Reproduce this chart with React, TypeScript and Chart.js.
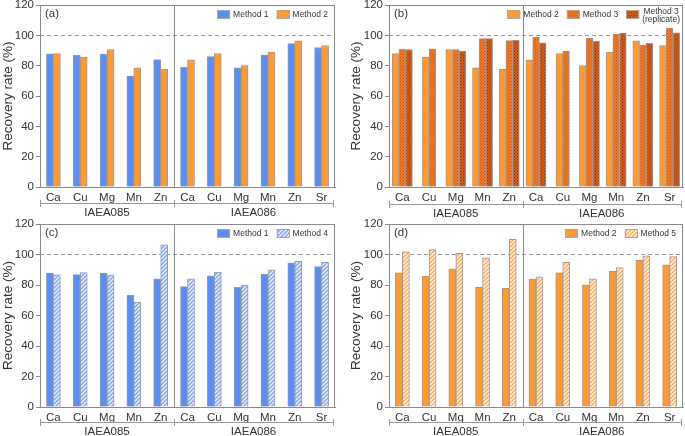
import React, { useEffect, useRef } from "react";
import { Chart, registerables } from "chart.js";

Chart.register(...registerables);

const FONT = '"Liberation Sans", Arial, Helvetica, sans-serif';
const TEXT = "#333333";
const AXIS = "#8a8a8a";

// ---------- data ----------
const elements = ["Ca", "Cu", "Mg", "Mn", "Zn", "Ca", "Cu", "Mg", "Mn", "Zn", "Sr"];
const sampleGroups = ["IAEA085", "IAEA086"];
const groupSizes = [5, 6];
const yMin = 0;
const yMax = 120;
const yStep = 20;
const yTitle = "Recovery rate (%)";
const referenceLine = 100;
const panelLabels = ["(a)", "(b)", "(c)", "(d)"];

const method1 = [87.8, 86.8, 87.7, 73.2, 84.0, 78.9, 86.0, 78.5, 87.0, 94.6, 92.0];
const method2 = [88.0, 85.7, 90.6, 78.6, 77.8, 83.9, 88.0, 80.1, 89.0, 96.4, 93.3];
const method3 = [90.8, 91.0, 90.6, 97.8, 96.5, 98.7, 89.7, 98.0, 100.6, 93.6, 104.8];
const method3rep = [90.6, null, 89.7, 97.8, 96.7, 95.0, null, 96.0, 101.5, 94.7, 101.7];
const method4 = [86.7, 88.2, 86.7, 68.8, 106.3, 84.0, 88.4, 80.0, 90.0, 95.6, 94.8];
const method5 = [101.8, 103.2, 100.8, 97.8, 110.0, 85.4, 94.8, 84.0, 91.5, 99.1, 98.7];

const name1 = ["Method 1"];
const name2 = ["Method 2"];
const name3 = ["Method 3"];
const name3rep = ["Method 3", "(replicate)"];
const name4 = ["Method 4"];
const name5 = ["Method 5"];

// ---------- fills ----------
function stripePattern(fg: string, bg: string) {
  const c = document.createElement("canvas");
  c.width = 4;
  c.height = 4;
  const g = c.getContext("2d")!;
  g.fillStyle = bg;
  g.fillRect(0, 0, 4, 4);
  g.strokeStyle = fg;
  g.lineWidth = 1.3;
  g.beginPath();
  g.moveTo(-1, 5);
  g.lineTo(5, -1);
  g.moveTo(-1, 1);
  g.lineTo(1, -1);
  g.moveTo(3, 5);
  g.lineTo(5, 3);
  g.stroke();
  return g.createPattern(c, "repeat")!;
}

function dotPattern(fg: string, bg: string) {
  const c = document.createElement("canvas");
  c.width = 3;
  c.height = 3;
  const g = c.getContext("2d")!;
  g.fillStyle = bg;
  g.fillRect(0, 0, 3, 3);
  g.fillStyle = fg;
  g.fillRect(0, 0, 1, 1);
  g.fillRect(1.5, 1.5, 1, 1);
  return g.createPattern(c, "repeat")!;
}

type Fill = () => string | CanvasPattern;
const fillBlue: Fill = () => "#5b8ef2";
const fillOrange: Fill = () => "#ff9a33";
const fillM3: Fill = () => dotPattern("#c8520f", "#f57a26");
const fillM3rep: Fill = () => dotPattern("#8a3408", "#d35e1c");
const fillM4: Fill = () => stripePattern("#7aa4f2", "#e8f0ff");
const fillM5: Fill = () => stripePattern("#ffa64f", "#fff4e8");

type Series = { name: string[]; data: (number | null)[]; fill: Fill };

type PanelSpec = {
  label: string;
  left: number;
  top: number;
  series: Series[];
  barThickness: number;
  skipNull: boolean;
  yWidth: number;
  padRight: number;
  padTop: number;
  xHeight: number;
  titlePad: number;
  legendRight: number;
  bracketOffset: number;
};

const decor = {
  id: "decor",
  beforeDatasetsDraw(chart: any) {
    const { ctx, chartArea: ca, scales } = chart;
    const y = Math.round(scales.y.getPixelForValue(referenceLine)) + 0.5;
    ctx.save();
    ctx.strokeStyle = "#9a9a9a";
    ctx.lineWidth = 1;
    ctx.setLineDash([4, 3]);
    ctx.beginPath();
    ctx.moveTo(ca.left, y);
    ctx.lineTo(ca.right, y);
    ctx.stroke();
    ctx.restore();
  },
  afterDraw(chart: any, _args: any, opts: any) {
    const { ctx, chartArea: ca, scales } = chart;
    const x = scales.x;
    ctx.save();
    // frame
    ctx.strokeStyle = AXIS;
    ctx.lineWidth = 1;
    ctx.strokeRect(Math.round(ca.left) + 0.5, Math.round(ca.top) + 0.5, Math.round(ca.right - ca.left) - 1, Math.round(ca.bottom - ca.top));

    // group boundaries
    const bounds: number[] = [ca.left];
    let idx = 0;
    for (let g = 0; g < groupSizes.length; g++) {
      idx += groupSizes[g];
      if (g < groupSizes.length - 1) {
        bounds.push((x.getPixelForValue(idx - 1) + x.getPixelForValue(idx)) / 2);
      }
    }
    bounds.push(ca.right - 2);
    for (let i = 1; i < bounds.length - 1; i++) {
      const bx = Math.round(bounds[i]) + 0.5;
      ctx.beginPath();
      ctx.moveTo(bx, ca.top);
      ctx.lineTo(bx, ca.bottom);
      ctx.stroke();
    }

    // bracket
    const by = Math.round(ca.bottom + opts.bracketOffset) + 0.5;
    ctx.strokeStyle = "#999999";
    ctx.beginPath();
    ctx.moveTo(bounds[0], by);
    ctx.lineTo(bounds[bounds.length - 1], by);
    for (const b of bounds) {
      const bb = Math.round(b) + 0.5;
      ctx.moveTo(bb, by - 3.5);
      ctx.lineTo(bb, by + 3.5);
    }
    ctx.stroke();
    ctx.fillStyle = TEXT;
    ctx.font = `11.5px ${FONT}`;
    ctx.textAlign = "center";
    ctx.textBaseline = "middle";
    for (let g = 0; g < sampleGroups.length; g++) {
      ctx.fillText(sampleGroups[g], (bounds[g] + bounds[g + 1]) / 2, by + 9);
    }

    // panel label
    ctx.textAlign = "left";
    ctx.font = `11.5px ${FONT}`;
    ctx.fillText(opts.label, ca.left + 5, ca.top + 8.5);

    // legend
    ctx.font = `8.5px ${FONT}`;
    const ds = chart.data.datasets;
    let rx = ca.right - opts.legendRight;
    const top = ca.top + 5;
    for (let i = ds.length - 1; i >= 0; i--) {
      const lines: string[] = opts.legend[i];
      const w = Math.max(...lines.map((l) => ctx.measureText(l).width));
      const tx = rx - w;
      const bx = tx - 3 - 13;
      ctx.fillStyle = ds[i].backgroundColor;
      ctx.fillRect(bx, top, 13, 9);
      ctx.strokeStyle = "#a8a8a8";
      ctx.strokeRect(Math.round(bx) + 0.5, top + 0.5, 12, 8);
      ctx.fillStyle = TEXT;
      ctx.textBaseline = "middle";
      if (lines.length === 1) {
        ctx.textAlign = "left";
        ctx.fillText(lines[0], tx, top + 4.5);
      } else {
        ctx.textAlign = "center";
        lines.forEach((l, k) => ctx.fillText(l, tx + w / 2, top + 1.5 + k * 8.5));
      }
      rx = bx - 8;
    }
    ctx.restore();
  },
};

function buildConfig(spec: PanelSpec): any {
  return {
    type: "bar",
    data: {
      labels: elements,
      datasets: spec.series.map((s) => ({
        label: s.name.join(" "),
        data: s.data,
        backgroundColor: s.fill(),
        borderColor: "#9a9a9a",
        borderWidth: 1,
        barThickness: spec.barThickness,
        skipNull: spec.skipNull,
      })),
    },
    plugins: [decor],
    options: {
      animation: false,
      responsive: false,
      devicePixelRatio: 1,
      layout: { padding: { left: 0, right: spec.padRight, top: spec.padTop, bottom: 0 } },
      plugins: {
        legend: { display: false },
        tooltip: { enabled: false },
        decor: {
          label: spec.label,
          legend: spec.series.map((s) => s.name),
          legendRight: spec.legendRight,
          bracketOffset: spec.bracketOffset,
        },
      },
      scales: {
        x: {
          offset: true,
          grid: { display: false, drawTicks: false },
          border: { display: true, color: AXIS },
          ticks: {
            autoSkip: false,
            maxRotation: 0,
            padding: 4,
            color: TEXT,
            font: { size: 11.5, family: FONT },
          },
          afterFit: (s: any) => {
            s.height = spec.xHeight;
            s.paddingLeft = 0;
            s.paddingRight = 0;
          },
        },
        y: {
          min: yMin,
          max: yMax,
          ticks: { stepSize: yStep, padding: 2, color: TEXT, font: { size: 11.5, family: FONT } },
          grid: { display: true, drawOnChartArea: false, drawTicks: true, tickLength: 4, color: AXIS },
          border: { display: true, color: AXIS },
          title: {
            display: true,
            text: yTitle,
            color: TEXT,
            font: { size: 13.5, family: FONT },
            padding: { top: spec.titlePad, bottom: 0 },
          },
          afterFit: (s: any) => {
            s.width = spec.yWidth;
            s.paddingTop = 0;
            s.paddingBottom = 0;
          },
        },
      },
    },
  };
}

function BarPanel({ spec }: { spec: PanelSpec }) {
  const ref = useRef<HTMLCanvasElement>(null);
  useEffect(() => {
    const chart = new Chart(ref.current!, buildConfig(spec));
    return () => chart.destroy();
  }, []);
  return (
    <canvas
      ref={ref}
      width={342}
      height={218}
      style={{ position: "absolute", left: spec.left, top: spec.top, width: 342, height: 218 }}
    />
  );
}

export default function App() {
  const leftCommon = { yWidth: 40, padRight: 7, titlePad: 0, legendRight: 7, barThickness: 7, skipNull: false };
  const rightCommon = { yWidth: 46, padRight: 2, titlePad: 5, legendRight: 7, barThickness: 7, skipNull: false };
  const panels: PanelSpec[] = [
    {
      ...leftCommon,
      label: panelLabels[0],
      left: 0,
      top: 0,
      padTop: 5,
      xHeight: 31,
      bracketOffset: 16,
      series: [
        { name: name1, data: method1, fill: fillBlue },
        { name: name2, data: method2, fill: fillOrange },
      ],
    },
    {
      ...rightCommon,
      label: panelLabels[1],
      left: 343,
      top: 0,
      padTop: 5,
      xHeight: 31,
      bracketOffset: 16.5,
      legendRight: 3,
      barThickness: 6.7,
      skipNull: true,
      series: [
        { name: name2, data: method2, fill: fillOrange },
        { name: name3, data: method3, fill: fillM3 },
        { name: name3rep, data: method3rep, fill: fillM3rep },
      ],
    },
    {
      ...leftCommon,
      label: panelLabels[2],
      left: 0,
      top: 218,
      padTop: 6,
      xHeight: 29,
      bracketOffset: 15,
      series: [
        { name: name1, data: method1, fill: fillBlue },
        { name: name4, data: method4, fill: fillM4 },
      ],
    },
    {
      ...rightCommon,
      label: panelLabels[3],
      left: 343,
      top: 218,
      padTop: 6,
      xHeight: 29,
      bracketOffset: 15,
      series: [
        { name: name2, data: method2, fill: fillOrange },
        { name: name5, data: method5, fill: fillM5 },
      ],
    },
  ];
  return (
    <div style={{ position: "fixed", left: 0, top: 0, width: 685, height: 436, background: "#ffffff" }}>
      {panels.map((p, i) => (
        <BarPanel key={i} spec={p} />
      ))}
    </div>
  );
}
